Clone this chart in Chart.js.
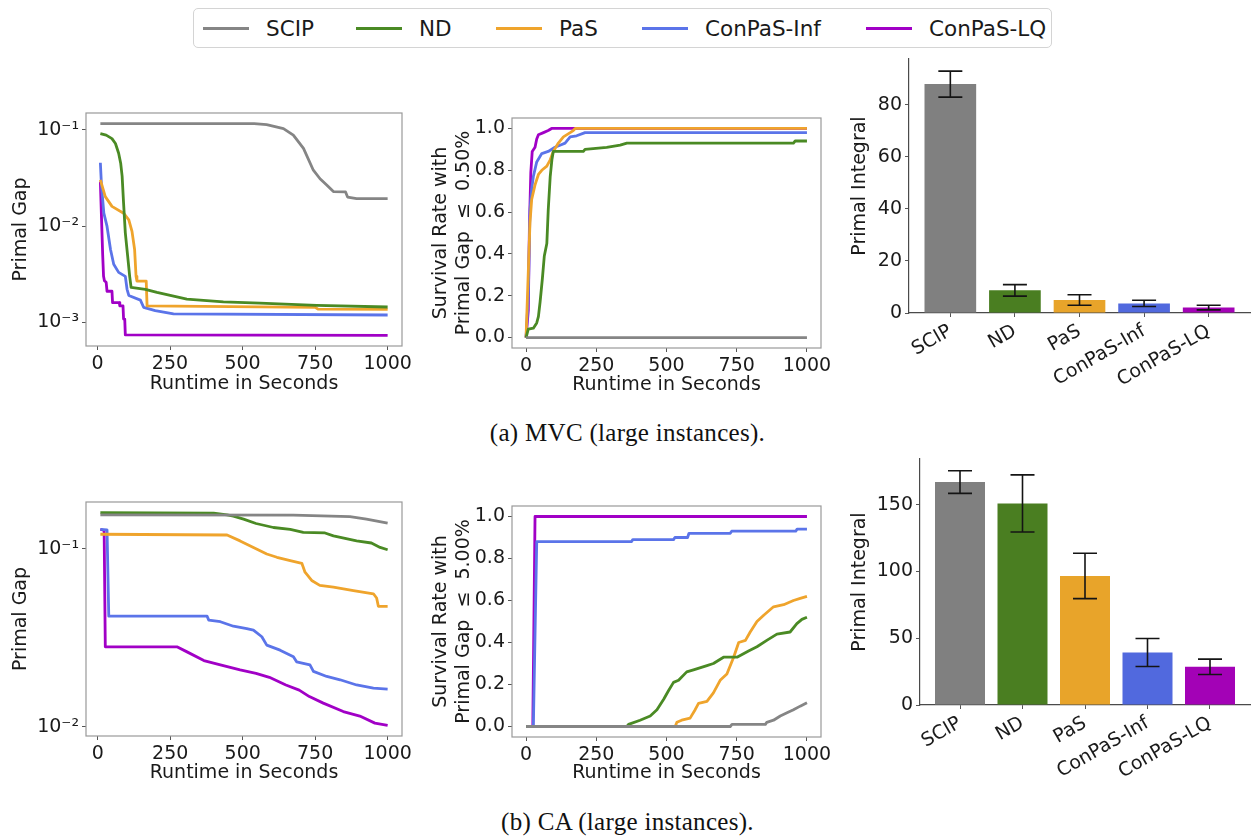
<!DOCTYPE html>
<html>
<head>
<meta charset="utf-8">
<script src="https://cdn.jsdelivr.net/npm/chart.js@4.4.1/dist/chart.umd.min.js"></script>
<style>
  html, body { margin: 0; padding: 0; background: #fff; }
  #fig { position: relative; width: 1255px; height: 836px; overflow: hidden; font-family: "DejaVu Sans", sans-serif; }
  #fig canvas { position: absolute; }
  .legend { position: absolute; left: 193px; top: 8px; width: 859px; height: 40px; border: 1px solid #d4d4d4; border-radius: 5px; box-sizing: border-box; background: #fff; }
  .lg-item { position: absolute; top: 0; height: 38px; display: flex; align-items: center; font-size: 21.5px; color: #1a1a1a; white-space: nowrap; }
  .lg-line { display: inline-block; width: 46px; height: 3px; margin-right: 17px; }
  .caption { position: absolute; left: 0; width: 1255px; text-align: center; font-family: "Liberation Serif", "Times New Roman", serif; font-size: 25px; letter-spacing: 0.3px; color: #111; line-height: 30px; }
</style>
</head>
<body>
<div id="fig">
  <div class="legend" id="legend"></div>
  <div class="caption" style="top:418px">(a) MVC (large instances).</div>
  <div class="caption" style="top:807px">(b) CA (large instances).</div>
</div>
<script>
// ---- series names and colours ----
const methods = ['SCIP', 'ND', 'PaS', 'ConPaS-Inf', 'ConPaS-LQ'];
const lineColors = ['#858585', '#4a8a24', '#efa42c', '#5b74e9', '#a100c6'];
const barColors = ['#808080', '#4a7e21', '#e8a42a', '#5169de', '#a302b6'];

// ---- tick values ----
const runtimeTicks = [0, 250, 500, 750, 1000];
const rateTicks = [0, 0.2, 0.4, 0.6, 0.8, 1.0];
const mvcGapTicks = [1e-1, 1e-2, 1e-3];
const caGapTicks = [1e-1, 1e-2];
const mvcIntegralTicks = [0, 20, 40, 60, 80];
const caIntegralTicks = [0, 50, 100, 150];

// ---- MVC: primal gap vs runtime, [seconds, gap] ----
const mvcGapSCIP = [[10,0.116],[540,0.116],[583,0.113],[641,0.103],[675,0.088],[710,0.064],[744,0.038],[767,0.031],[790,0.0267],[813,0.0228],[855,0.0226],[862,0.0200],[893,0.0193],[1000,0.0193]];
const mvcGapND = [[10,0.091],[30,0.088],[50,0.081],[62,0.072],[73,0.057],[80,0.045],[85,0.033],[90,0.0173],[96,0.0085],[104,0.0049],[111,0.0030],[116,0.0023],[165,0.0022],[205,0.00204],[308,0.00174],[434,0.00163],[560,0.00158],[755,0.00150],[1000,0.00144]];
const mvcGapPaS = [[10,0.0301],[27,0.0202],[50,0.0160],[90,0.0136],[108,0.0116],[119,0.0088],[128,0.0057],[133,0.0030],[136,0.00268],[168,0.00268],[171,0.00148],[750,0.00143],[760,0.00137],[1000,0.00136]];
const mvcGapInf = [[10,0.0454],[14,0.0257],[22,0.0136],[33,0.0099],[45,0.0057],[56,0.0040],[73,0.0033],[96,0.0030],[102,0.0022],[108,0.0019],[148,0.0017],[159,0.00143],[199,0.00132],[262,0.00122],[1000,0.00119]];
const mvcGapLQ = [[10,0.0289],[14,0.012],[18,0.0050],[21,0.0030],[24,0.0027],[30,0.0026],[33,0.0021],[50,0.0021],[52,0.0016],[75,0.0016],[77,0.00148],[88,0.00148],[90,0.00108],[94,0.00108],[96,0.00074],[1000,0.00073]];

// ---- MVC: survival rate with primal gap <= 0.50%, [seconds, rate] ----
const mvcRateSCIP = [[0,0],[1000,0]];
const mvcRateND = [[0,0],[8,0.04],[26,0.045],[38,0.07],[44,0.10],[50,0.17],[58,0.28],[65,0.39],[74,0.45],[79,0.61],[86,0.77],[92,0.85],[97,0.89],[204,0.89],[210,0.90],[287,0.91],[335,0.92],[359,0.93],[952,0.93],[958,0.94],[1000,0.94]];
const mvcRatePaS = [[0,0],[14,0.55],[20,0.66],[32,0.73],[44,0.78],[56,0.80],[74,0.82],[86,0.85],[97,0.89],[115,0.93],[133,0.96],[157,0.98],[168,0.99],[175,1],[1000,1]];
const mvcRateInf = [[0,0],[8,0.2],[14,0.61],[20,0.71],[26,0.77],[38,0.84],[56,0.88],[79,0.89],[103,0.91],[121,0.92],[139,0.93],[157,0.96],[180,0.965],[210,0.98],[1000,0.98]];
const mvcRateLQ = [[0,0],[8,0.13],[12,0.53],[17,0.79],[22,0.89],[32,0.91],[38,0.95],[44,0.97],[62,0.98],[79,0.99],[91,1],[1000,1]];

// ---- MVC: primal integral, mean and error ----
const mvcIntegral = [88.0, 8.7, 5.0, 3.7, 2.1];
const mvcIntegralErr = [5.0, 2.2, 2.0, 1.2, 0.9];

// ---- CA: primal gap vs runtime ----
const caGapSCIP = [[9,0.1556],[675,0.155],[870,0.152],[927,0.147],[1000,0.1396]];
const caGapND = [[9,0.160],[400,0.159],[446,0.1556],[468,0.153],[503,0.147],[546,0.139],[606,0.132],[664,0.129],[709,0.124],[784,0.123],[813,0.1185],[893,0.111],[944,0.108],[974,0.102],[1000,0.099]];
const caGapPaS = [[9,0.121],[446,0.1198],[491,0.111],[537,0.102],[583,0.0937],[618,0.0898],[664,0.086],[704,0.0831],[715,0.074],[738,0.0665],[766,0.0624],[813,0.061],[882,0.0584],[951,0.056],[962,0.053],[968,0.0476],[1000,0.0476]];
const caGapInf = [[9,0.129],[32,0.128],[38,0.0419],[377,0.0419],[383,0.0398],[423,0.039],[468,0.0368],[514,0.0357],[537,0.035],[566,0.0321],[583,0.0288],[629,0.027],[675,0.0248],[686,0.0232],[732,0.0223],[744,0.0205],[790,0.0192],[836,0.0184],[893,0.0172],[951,0.0165],[1000,0.0163]];
const caGapLQ = [[9,0.129],[22,0.127],[26,0.0282],[273,0.0282],[308,0.0264],[366,0.0236],[423,0.0223],[491,0.0209],[546,0.020],[592,0.019],[649,0.0172],[695,0.0161],[730,0.0148],[778,0.0136],[847,0.0122],[904,0.0115],[956,0.0105],[1000,0.0102]];

// ---- CA: survival rate with primal gap <= 5.00% ----
const caRateSCIP = [[0,0],[727,0],[733,0.01],[852,0.01],[857,0.02],[881,0.03],[905,0.05],[929,0.065],[952,0.08],[976,0.097],[1000,0.113]];
const caRateND = [[0,0],[359,0],[365,0.01],[406,0.03],[442,0.05],[466,0.08],[490,0.13],[507,0.17],[525,0.21],[543,0.22],[572,0.26],[596,0.27],[644,0.29],[667,0.30],[703,0.33],[751,0.33],[792,0.36],[822,0.38],[857,0.41],[893,0.44],[940,0.45],[964,0.49],[982,0.51],[1000,0.52]];
const caRatePaS = [[0,0],[531,0],[537,0.02],[554,0.03],[584,0.04],[602,0.08],[614,0.11],[644,0.12],[667,0.16],[691,0.22],[715,0.25],[739,0.33],[757,0.40],[781,0.41],[798,0.45],[822,0.50],[846,0.53],[881,0.57],[917,0.58],[952,0.60],[976,0.61],[1000,0.62]];
const caRateInf = [[0,0],[26,0],[38,0.88],[375,0.88],[380,0.89],[525,0.89],[530,0.90],[575,0.90],[580,0.92],[727,0.92],[732,0.93],[960,0.93],[965,0.94],[1000,0.94]];
const caRateLQ = [[0,0],[24,0],[32,1],[1000,1]];

// ---- CA: primal integral ----
const caIntegral = [167, 151, 96.7, 39.3, 28.6];
const caIntegralErr = [8.5, 21.4, 17.0, 10.5, 5.8];

// ---------------------------------------------------------------
const FONT = '"DejaVu Sans", sans-serif';
const TEXT = '#1a1a1a';
const tickFont = { family: FONT, size: 19 };
const titleFont = { family: FONT, size: 19 };
Chart.defaults.font.family = FONT;

const fig = document.getElementById('fig');

// legend
(function buildLegend() {
  const lg = document.getElementById('legend');
  const starts = [203, 356, 496, 642, 866];
  methods.forEach((m, i) => {
    const it = document.createElement('div');
    it.className = 'lg-item';
    it.style.left = (starts[i] - 194) + 'px';
    const sw = document.createElement('span');
    sw.className = 'lg-line';
    sw.style.background = lineColors[i];
    const tx = document.createElement('span');
    tx.textContent = m;
    it.appendChild(sw); it.appendChild(tx);
    lg.appendChild(it);
  });
})();

const PAD_T = 20, PAD_R = 26;
function makeCanvas(b) {
  const c = document.createElement('canvas');
  const left = b.plotL - b.yW, top = b.plotT - PAD_T;
  const w = b.plotR - left + PAD_R, h = b.plotB - top + b.xH;
  c.width = w; c.height = h;
  c.style.left = left + 'px'; c.style.top = top + 'px';
  c.style.width = w + 'px'; c.style.height = h + 'px';
  fig.appendChild(c);
  return c;
}

const framePlugin = {
  id: 'frame',
  afterDatasetsDraw(chart) {
    const a = chart.chartArea, ctx = chart.ctx;
    ctx.save();
    ctx.strokeStyle = '#999999';
    ctx.lineWidth = 1.2;
    ctx.strokeRect(a.left, a.top, a.right - a.left, a.bottom - a.top);
    ctx.restore();
  }
};

const SUP = { '-': '\u207B', '0': '\u2070', '1': '\u00B9', '2': '\u00B2', '3': '\u00B3' };
const powLabel = v => '10' + String(Math.round(Math.log10(v))).split('').map(c => SUP[c] || c).join('');

function extent(series, idx, log) {
  let lo = Infinity, hi = -Infinity;
  series.forEach(s => s.forEach(p => {
    const v = log ? Math.log10(p[idx]) : p[idx];
    lo = Math.min(lo, v); hi = Math.max(hi, v);
  }));
  const m = (hi - lo) * 0.05;
  return log ? { min: Math.pow(10, lo - m), max: Math.pow(10, hi + m) } : { min: lo - m, max: hi + m };
}

function tickGrid() {
  return { display: true, drawOnChartArea: false, drawTicks: true, tickLength: 4, tickColor: '#555', lineWidth: 1 };
}

function lineChart(b, series, opt) {
  const c = makeCanvas(b);
  const xr = extent(series, 0, false);
  const yr = extent(series, 1, opt.log);
  new Chart(c, {
    type: 'line',
    data: {
      datasets: series.map((pts, i) => ({
        label: methods[i],
        data: pts.map(p => ({ x: p[0], y: p[1] })),
        borderColor: lineColors[i],
        borderWidth: 2.8,
        pointRadius: 0,
        fill: false,
        tension: 0,
        borderJoinStyle: 'round'
      }))
    },
    options: {
      responsive: false, animation: false, devicePixelRatio: 1,
      layout: { padding: { left: 0, top: PAD_T, right: PAD_R, bottom: 0 } },
      plugins: { legend: { display: false }, tooltip: { enabled: false } },
      scales: {
        x: {
          type: 'linear', min: xr.min, max: xr.max,
          afterBuildTicks: s => { s.ticks = runtimeTicks.map(v => ({ value: v })); },
          afterFit: s => { s.height = b.xH; },
          ticks: { font: tickFont, color: TEXT, padding: 3, maxRotation: 0, autoSkip: false, callback: v => String(v) },
          grid: tickGrid(), border: { display: false },
          title: { display: true, text: 'Runtime in Seconds', font: titleFont, color: TEXT, padding: 0 }
        },
        y: {
          type: opt.log ? 'logarithmic' : 'linear', min: yr.min, max: yr.max,
          afterBuildTicks: s => { s.ticks = opt.ticks.map(v => ({ value: v })); },
          afterFit: s => { s.width = b.yW; },
          ticks: { font: tickFont, color: TEXT, padding: 3, autoSkip: false, callback: opt.fmt },
          grid: tickGrid(), border: { display: false },
          title: { display: true, text: opt.title, font: titleFont, color: TEXT, padding: 0 }
        }
      }
    },
    plugins: [framePlugin]
  });
}

function barChart(b, means, errs, yTicks) {
  const c = makeCanvas(b);
  const half = 0.4, n = means.length;
  const xm = (n - 1 + 2 * half) * 0.05;
  const yMax = Math.max(...means.map((m, i) => m + errs[i])) * 1.05;
  const errorBars = {
    id: 'errorBars',
    afterDatasetsDraw(chart) {
      const ctx = chart.ctx, xs = chart.scales.x, ys = chart.scales.y;
      ctx.save();
      ctx.strokeStyle = '#141414';
      ctx.lineWidth = 1.6;
      means.forEach((m, i) => {
        const px = xs.getPixelForValue(i);
        const top = ys.getPixelForValue(m + errs[i]);
        const bot = ys.getPixelForValue(m - errs[i]);
        ctx.beginPath();
        ctx.moveTo(px, top); ctx.lineTo(px, bot);
        ctx.moveTo(px - 12, top); ctx.lineTo(px + 12, top);
        ctx.moveTo(px - 12, bot); ctx.lineTo(px + 12, bot);
        ctx.stroke();
      });
      ctx.restore();
    }
  };
  new Chart(c, {
    type: 'bar',
    data: {
      datasets: [{
        data: means.map((m, i) => ({ x: i, y: m })),
        backgroundColor: barColors,
        borderWidth: 0,
        categoryPercentage: 1,
        barPercentage: 2 * half
      }]
    },
    options: {
      responsive: false, animation: false, devicePixelRatio: 1,
      layout: { padding: { left: 0, top: PAD_T, right: PAD_R, bottom: 0 } },
      plugins: { legend: { display: false }, tooltip: { enabled: false } },
      scales: {
        x: {
          type: 'linear', offset: false, min: -half - xm, max: n - 1 + half + xm,
          afterBuildTicks: s => { s.ticks = methods.map((_, i) => ({ value: i })); },
          afterFit: s => { s.height = b.xH; },
          ticks: { font: tickFont, color: TEXT, padding: 3, minRotation: 30, maxRotation: 30, autoSkip: false, callback: v => methods[v] },
          grid: Object.assign(tickGrid(), { offset: false }),
          border: { display: true, color: '#4a4a4a', width: 1.2 }
        },
        y: {
          type: 'linear', min: 0, max: yMax,
          afterBuildTicks: s => { s.ticks = yTicks.map(v => ({ value: v })); },
          afterFit: s => { s.width = b.yW; },
          ticks: { font: tickFont, color: TEXT, padding: 3, autoSkip: false, callback: v => String(v) },
          grid: tickGrid(),
          border: { display: true, color: '#4a4a4a', width: 1.2 },
          title: { display: true, text: 'Primal Integral', font: titleFont, color: TEXT, padding: 0 }
        }
      }
    },
    plugins: [errorBars]
  });
}

const fmtRate = v => Number(v).toFixed(1);

// row (a): MVC
lineChart({ plotL: 86, plotT: 113, plotR: 402, plotB: 346, yW: 76, xH: 49 },
  [mvcGapSCIP, mvcGapND, mvcGapPaS, mvcGapInf, mvcGapLQ],
  { log: true, ticks: mvcGapTicks, fmt: powLabel, title: 'Primal Gap' });
lineChart({ plotL: 512, plotT: 118, plotR: 821, plotB: 348, yW: 82, xH: 48 },
  [mvcRateSCIP, mvcRateND, mvcRatePaS, mvcRateInf, mvcRateLQ],
  { log: false, ticks: rateTicks, fmt: fmtRate, title: ['Survival Rate with', 'Primal Gap  \u2264  0.50%'] });
barChart({ plotL: 909, plotT: 59, plotR: 1250, plotB: 313, yW: 60, xH: 100 },
  mvcIntegral, mvcIntegralErr, mvcIntegralTicks);

// row (b): CA
lineChart({ plotL: 86, plotT: 502, plotR: 402, plotB: 736, yW: 76, xH: 48 },
  [caGapSCIP, caGapND, caGapPaS, caGapInf, caGapLQ],
  { log: true, ticks: caGapTicks, fmt: powLabel, title: 'Primal Gap' });
lineChart({ plotL: 512, plotT: 506, plotR: 821, plotB: 737, yW: 82, xH: 47 },
  [caRateSCIP, caRateND, caRatePaS, caRateInf, caRateLQ],
  { log: false, ticks: rateTicks, fmt: fmtRate, title: ['Survival Rate with', 'Primal Gap  \u2264  5.00%'] });
barChart({ plotL: 920, plotT: 459, plotR: 1250, plotB: 705, yW: 71, xH: 95 },
  caIntegral, caIntegralErr, caIntegralTicks);
</script>
</body>
</html>
